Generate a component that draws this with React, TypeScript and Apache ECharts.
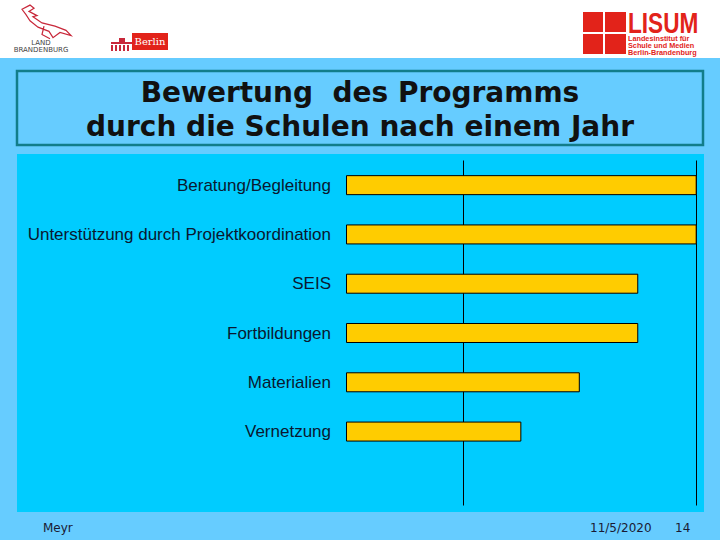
import React, { useEffect, useRef } from 'react';
import * as echarts from 'echarts';

// ---- data ----
const categories = [
  'Beratung/Begleitung',
  'Unterstützung durch Projektkoordination',
  'SEIS',
  'Fortbildungen',
  'Materialien',
  'Vernetzung',
];
const ratings = [3, 3, 2.5, 2.5, 2, 1.5];
const axisMin = 0;
const axisMax = 3;
const titleLines = ['Bewertung  des Programms', 'durch die Schulen nach einem Jahr'];
const footerAuthor = 'Meyr';
const footerDate = '11/5/2020';
const footerPage = '14';

const eagleD =
  'M4 6 L12 2 L16 5 L11 8 L19 12 L15 13 L24 19 L37 22 L48 26 L53 31 L42 28 L35 33 L31 27 L20 23 L12 17 L8 11 Z M26 22 L24 30 L32 34';
echarts.graphic.registerShape('eagleShape', echarts.graphic.extendPath(eagleD, {}) as any);

export default function App() {
  const ref = useRef<HTMLDivElement>(null);
  useEffect(() => {
    if (!ref.current) return;
    const chart = echarts.init(ref.current, undefined, { renderer: 'svg' });
    const cats = [...categories, ''];
    const vals: (number | null)[] = [...ratings, null];
    const red = '#E2231A';
    const titleFont = 'bold 28px "DejaVu Sans", Verdana, sans-serif';
    const smallRed = 'bold 6.8px "Liberation Sans", Arial, sans-serif';
    chart.setOption({
      animation: false,
      backgroundColor: '#66CCFF',
      graphic: [
        { type: 'rect', z: -10, shape: { x: 0, y: 0, width: 720, height: 58 }, style: { fill: '#ffffff' }, silent: true },
        { type: 'rect', z: -10, shape: { x: 17, y: 71, width: 686, height: 74 }, style: { fill: '#66CCFF', stroke: '#127D8A', lineWidth: 2.5 }, silent: true },
        { type: 'rect', z: -10, shape: { x: 17, y: 154, width: 687, height: 358 }, style: { fill: '#00CCFF' }, silent: true },
        {
          type: 'text', z: 10, x: 360, y: 92,
          style: { text: titleLines[0], fill: '#111111', font: titleFont, align: 'center', verticalAlign: 'middle' },
        },
        {
          type: 'text', z: 10, x: 360, y: 126,
          style: { text: titleLines[1], fill: '#111111', font: titleFont, align: 'center', verticalAlign: 'middle' },
        },
        { type: 'text', z: 10, x: 43, y: 528, style: { text: footerAuthor, fill: '#1a1a33', font: '12px "DejaVu Sans", sans-serif', verticalAlign: 'middle' } },
        { type: 'text', z: 10, x: 590, y: 528, style: { text: footerDate, fill: '#1a1a33', font: '12px "DejaVu Sans", sans-serif', verticalAlign: 'middle' } },
        { type: 'text', z: 10, x: 675, y: 528, style: { text: footerPage, fill: '#1a1a33', font: '12px "DejaVu Sans", sans-serif', verticalAlign: 'middle' } },
        // Brandenburg logo
        { type: 'eagleShape', z: 10, x: 18, y: 3, scaleX: 1, scaleY: 1.05, style: { fill: 'none', stroke: '#C8283A', lineWidth: 1.2 } },
        { type: 'text', z: 10, x: 41, y: 43, style: { text: 'LAND', fill: '#444444', font: '7px "DejaVu Sans", sans-serif', align: 'center', verticalAlign: 'middle' } },
        { type: 'text', z: 10, x: 41, y: 50, style: { text: 'BRANDENBURG', fill: '#444444', font: '7px "DejaVu Sans", sans-serif', align: 'center', verticalAlign: 'middle' } },
        // Berlin logo
        { type: 'rect', z: 10, shape: { x: 132, y: 33, width: 36, height: 17 }, style: { fill: red } },
        { type: 'text', z: 11, x: 150, y: 41.5, style: { text: 'Berlin', fill: '#ffffff', font: '10px "DejaVu Serif", serif', align: 'center', verticalAlign: 'middle' } },
        { type: 'rect', z: 10, shape: { x: 111, y: 42, width: 21, height: 2 }, style: { fill: '#C8283A' } },
        { type: 'rect', z: 10, shape: { x: 119, y: 38, width: 6, height: 4 }, style: { fill: '#C8283A' } },
        { type: 'rect', z: 10, shape: { x: 111, y: 45, width: 2, height: 6 }, style: { fill: '#C8283A' } },
        { type: 'rect', z: 10, shape: { x: 115, y: 45, width: 2, height: 6 }, style: { fill: '#C8283A' } },
        { type: 'rect', z: 10, shape: { x: 119, y: 45, width: 2, height: 6 }, style: { fill: '#C8283A' } },
        { type: 'rect', z: 10, shape: { x: 123, y: 45, width: 2, height: 6 }, style: { fill: '#C8283A' } },
        { type: 'rect', z: 10, shape: { x: 127, y: 45, width: 2, height: 6 }, style: { fill: '#C8283A' } },
        // LISUM logo
        { type: 'rect', z: 10, shape: { x: 583, y: 12, width: 20, height: 20 }, style: { fill: red } },
        { type: 'rect', z: 10, shape: { x: 605, y: 12, width: 21, height: 20 }, style: { fill: red } },
        { type: 'rect', z: 10, shape: { x: 583, y: 34, width: 20, height: 20 }, style: { fill: red } },
        { type: 'rect', z: 10, shape: { x: 605, y: 34, width: 21, height: 20 }, style: { fill: red } },
        { type: 'text', z: 10, x: 628, y: 23, scaleX: 0.78, style: { text: 'LISUM', fill: red, font: 'bold 29px "Liberation Sans", Arial, sans-serif', lineHeight: 22, verticalAlign: 'middle' } },
        { type: 'text', z: 10, x: 628, y: 38.5, scaleX: 1.07, style: { text: 'Landesinstitut für', fill: red, font: smallRed, lineHeight: 7, verticalAlign: 'middle' } },
        { type: 'text', z: 10, x: 628, y: 45.7, scaleX: 1.07, style: { text: 'Schule und Medien', fill: red, font: smallRed, lineHeight: 7, verticalAlign: 'middle' } },
        { type: 'text', z: 10, x: 628, y: 52.9, scaleX: 1.07, style: { text: 'Berlin-Brandenburg', fill: red, font: smallRed, lineHeight: 7, verticalAlign: 'middle' } },
      ],
      grid: { left: 346, right: 23.3, top: 160.5, bottom: 34.5, containLabel: false },
      xAxis: {
        type: 'value',
        min: axisMin,
        max: axisMax,
        interval: 1,
        axisLabel: { show: false },
        axisLine: { show: false },
        axisTick: { show: false },
        splitLine: {
          show: true,
          lineStyle: { color: ['rgba(0,0,0,0)', '#000000', 'rgba(0,0,0,0)', '#000000'], width: 1 },
        },
      },
      yAxis: {
        type: 'category',
        inverse: true,
        data: cats,
        axisLine: { show: false },
        axisTick: { show: false },
        axisLabel: {
          margin: 15,
          color: '#0a1830',
          fontSize: 17,
          fontFamily: '"Liberation Sans", Arial, sans-serif',
        },
      },
      series: [
        {
          type: 'bar',
          data: vals,
          barWidth: 20,
          itemStyle: { color: '#FFCC00', borderColor: '#000000', borderWidth: 1 },
        },
      ],
    });
    return () => chart.dispose();
  }, []);
  return <div ref={ref} style={{ position: 'fixed', left: 0, top: 0, width: 720, height: 540 }} />;
}
